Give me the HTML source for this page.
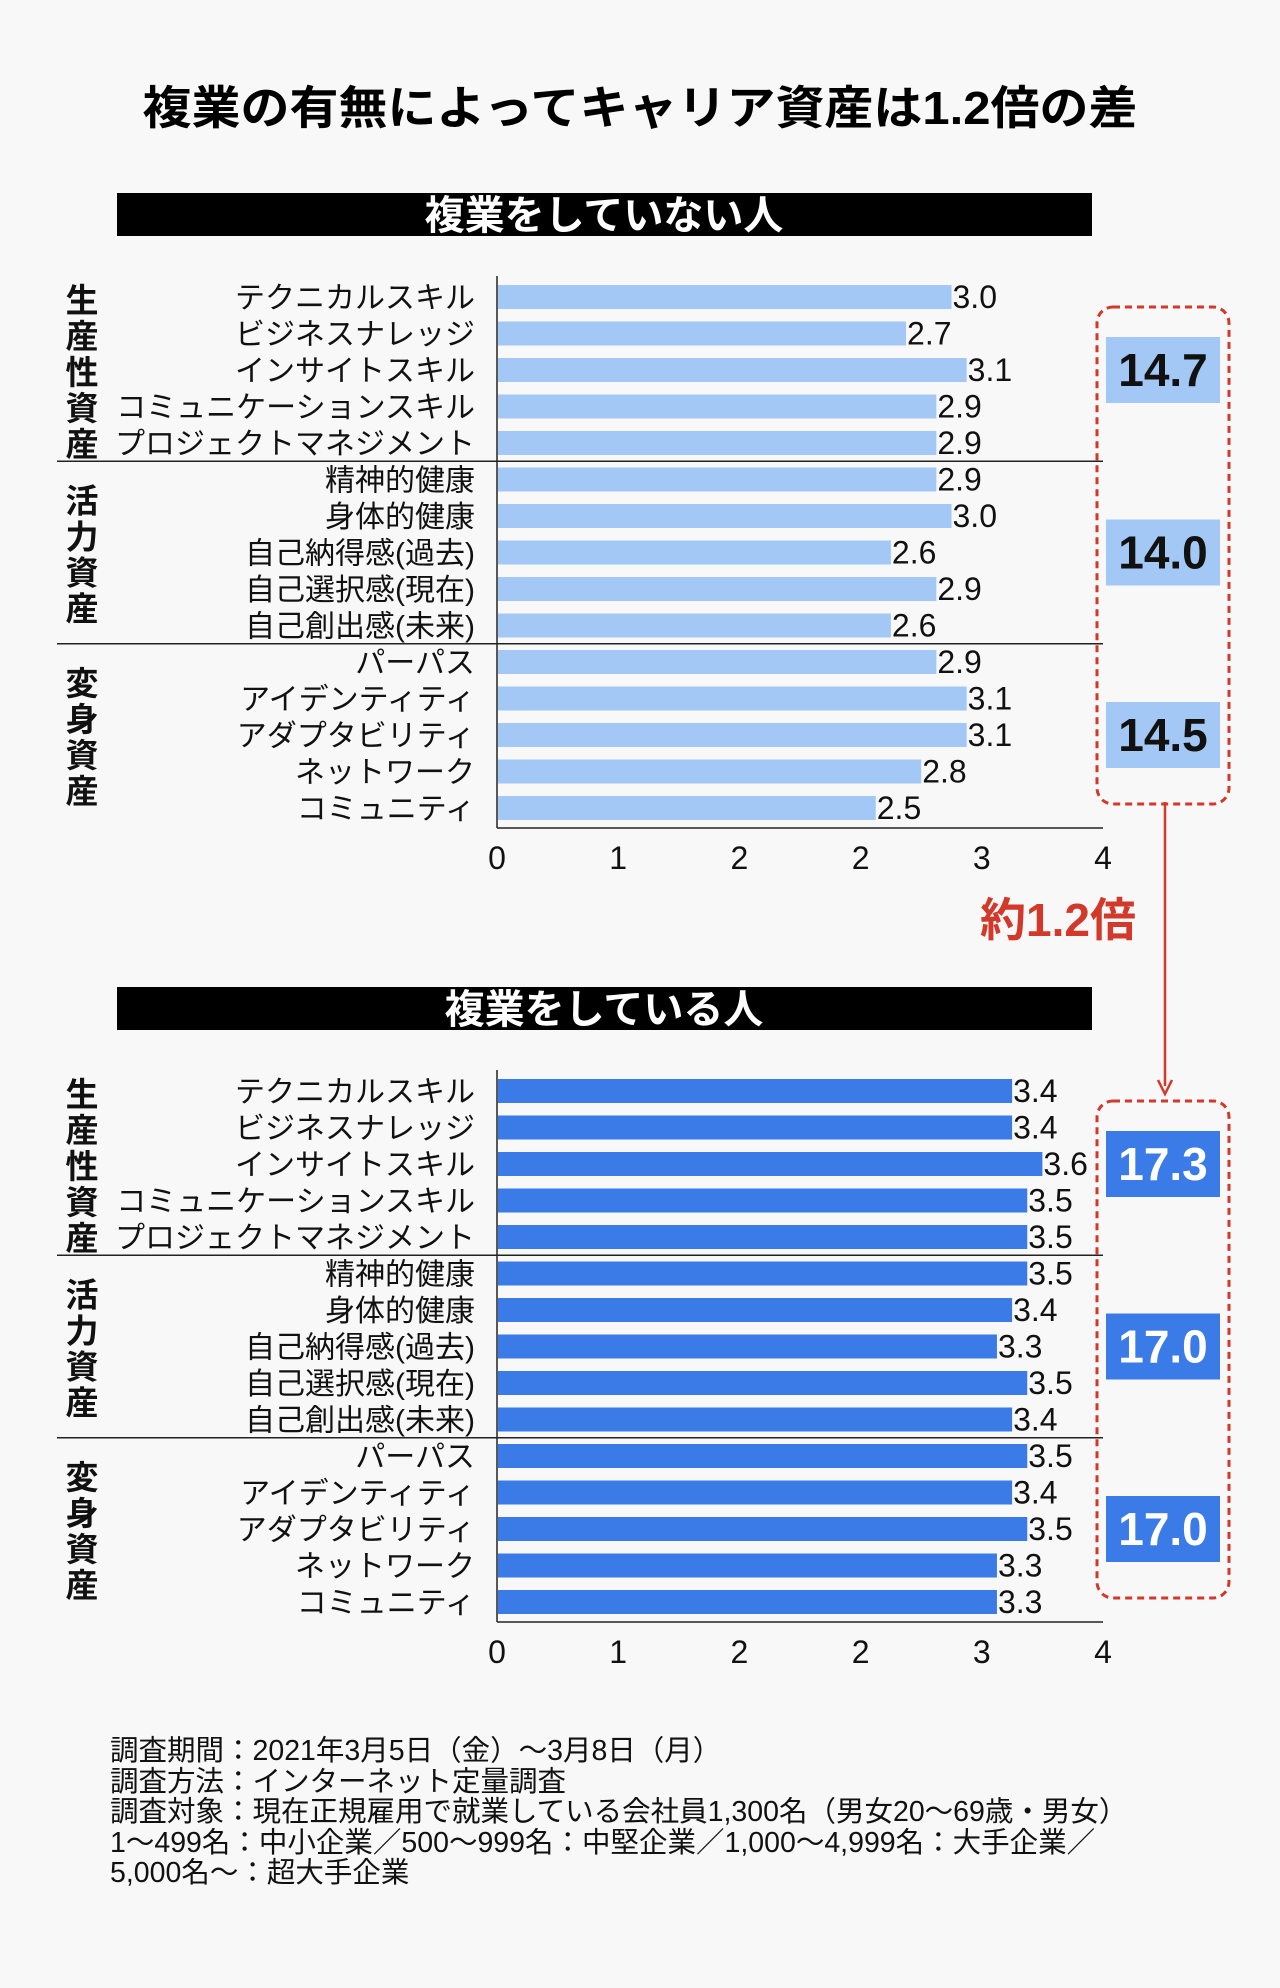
<!DOCTYPE html>
<html><head><meta charset="utf-8">
<style>
html,body{margin:0;padding:0;background:#f8f8f8;}
svg{display:block;font-family:"Liberation Sans","Noto Sans CJK JP",sans-serif;}
</style></head>
<body>
<svg id="page" width="1280" height="1988" viewBox="0 0 1280 1988" xmlns="http://www.w3.org/2000/svg">
<rect x="0" y="0" width="1280" height="1988" fill="#f8f8f8"/>
<text x="640" y="124" text-anchor="middle" font-size="46" font-weight="bold" textLength="995" lengthAdjust="spacingAndGlyphs" fill="#000">複業の有無によってキャリア資産は1.2倍の差</text>
<g id="chart1"></g>
<g id="chart2"></g>
<text x="1058" y="936" text-anchor="middle" font-size="46" font-weight="bold" fill="#d2392b">約1.2倍</text>
<line x1="1165" y1="802" x2="1165" y2="1086" stroke="#d2392b" stroke-width="2.5"/>
<path d="M1158,1080 L1165,1094 L1172,1080" fill="none" stroke="#d2392b" stroke-width="2.5"/>
<g font-size="28.5" fill="#111">
<text x="110" y="1760">調査期間：2021年3月5日（金）～3月8日（月）</text>
<text x="110" y="1791">調査方法：インターネット定量調査</text>
<text x="110" y="1821">調査対象：現在正規雇用で就業している会社員1,300名（男女20～69歳・男女）</text>
<text x="110" y="1852">1～499名：中小企業／500～999名：中堅企業／1,000～4,999名：大手企業／</text>
<text x="110" y="1882">5,000名～：超大手企業</text>
</g>
</svg>
<script>
const categories = ["テクニカルスキル","ビジネスナレッジ","インサイトスキル","コミュニケーションスキル","プロジェクトマネジメント","精神的健康","身体的健康","自己納得感(過去)","自己選択感(現在)","自己創出感(未来)","パーパス","アイデンティティ","アダプタビリティ","ネットワーク","コミュニティ"];
const groups = ["生産性資産","活力資産","変身資産"];
const valuesNoSideJob = [3.0,2.7,3.1,2.9,2.9,2.9,3.0,2.6,2.9,2.6,2.9,3.1,3.1,2.8,2.5];
const valuesSideJob = [3.4,3.4,3.6,3.5,3.5,3.5,3.4,3.3,3.5,3.4,3.5,3.4,3.5,3.3,3.3];
const totalsNoSideJob = ["14.7","14.0","14.5"];
const totalsSideJob = ["17.3","17.0","17.0"];
const tickValues = [0,0.8,1.6,2.4,3.2,4];
const tickLabels = ["0","1","2","2","3","4"];
const NS = "http://www.w3.org/2000/svg";
function mk(parent, tag, attrs, txt){
  const e = document.createElementNS(NS, tag);
  for (const k in attrs) e.setAttribute(k, attrs[k]);
  if (txt !== undefined) e.textContent = txt;
  parent.appendChild(e);
  return e;
}
function drawChart(gid, title, values, totals, color, top, slug){
  const g = document.getElementById(gid);
  const x0 = 497, unit = 151.5;
  const xs = v => x0 + v * unit;
  const headY = top, firstY = top + 104, step = 36.5, barH = 24;
  const ys = i => firstY + i * step;
  const hdr = mk(g, "rect", {x:117, y:headY, width:975, height:43, fill:"#000"});
  
  
  const ht = mk(g, "text", {x:604, y:headY+36, "text-anchor":"middle", "font-size":40, "font-weight":"bold", fill:"#fff"}, title);
  
  
  const yTop = ys(0) - 21, yBot = ys(14) + 20;
  const ax = mk(g, "line", {x1:x0, y1:yTop, x2:x0, y2:yBot, stroke:"#222", "stroke-width":1.5});
  
  
  const bx = mk(g, "line", {x1:x0, y1:yBot, x2:xs(4), y2:yBot, stroke:"#222", "stroke-width":1.5});
  
  
  [5,10].forEach(i => {
    const yy = (ys(i-1)+ys(i))/2;
    const s = mk(g, "line", {x1:57, y1:yy, x2:xs(4), y2:yy, stroke:"#222", "stroke-width":1.5});
    
    
  });
  values.forEach((v,i) => {
    const b = mk(g, "rect", {x:x0+1, y:ys(i)-barH/2, width:xs(v)-x0-1, height:barH, fill:color});
    
    
    const vl = mk(g, "text", {x:xs(v)+1, y:ys(i)+11, "font-size":32, fill:"#111"}, v.toFixed(1));
    
    
    const cl = mk(g, "text", {x:475, y:ys(i)+11, "text-anchor":"end", "font-size":30, fill:"#111"}, categories[i]);
    
    
  });
  groups.forEach((name,gi) => {
    const chars = name.split("");
    const centerY = ys(gi*5+2) + 2;
    const startY = centerY - (chars.length-1)*36/2;
    const gt = mk(g, "text", {"font-size":33, "font-weight":"bold", fill:"#111", "text-anchor":"middle"});
    
    
    chars.forEach((c,ci) => {
      mk(gt, "tspan", {x:82, y:startY + ci*36 + 12}, c);
    });
    const cy = ys(gi*5+2);
    const box = mk(g, "rect", {x:1106, y:cy-33, width:114, height:66, fill:color});
    
    
    const tt = mk(g, "text", {x:1163, y:cy+16, "text-anchor":"middle", "font-size":46, "font-weight":"bold", fill: color === "#3a7be8" ? "#fff" : "#111"}, totals[gi]);
    
    
  });
  const dash = mk(g, "rect", {x:1097, y:ys(0)+10, width:132, height:ys(14)-ys(0)-14, rx:16, fill:"none", stroke:"#d2392b", "stroke-width":3, "stroke-dasharray":"7,5"});
  
  
  tickValues.forEach((t,ti) => {
    const tl = mk(g, "text", {x:xs(t), y:yBot+41, "text-anchor":"middle", "font-size":32, fill:"#111"}, tickLabels[ti]);
    
    
  });
}
drawChart("chart1", "複業をしていない人", valuesNoSideJob, totalsNoSideJob, "#a4c8f5", 193, "no-side-job");
drawChart("chart2", "複業をしている人", valuesSideJob, totalsSideJob, "#3a7be8", 987, "side-job");
</script>
</body></html>
